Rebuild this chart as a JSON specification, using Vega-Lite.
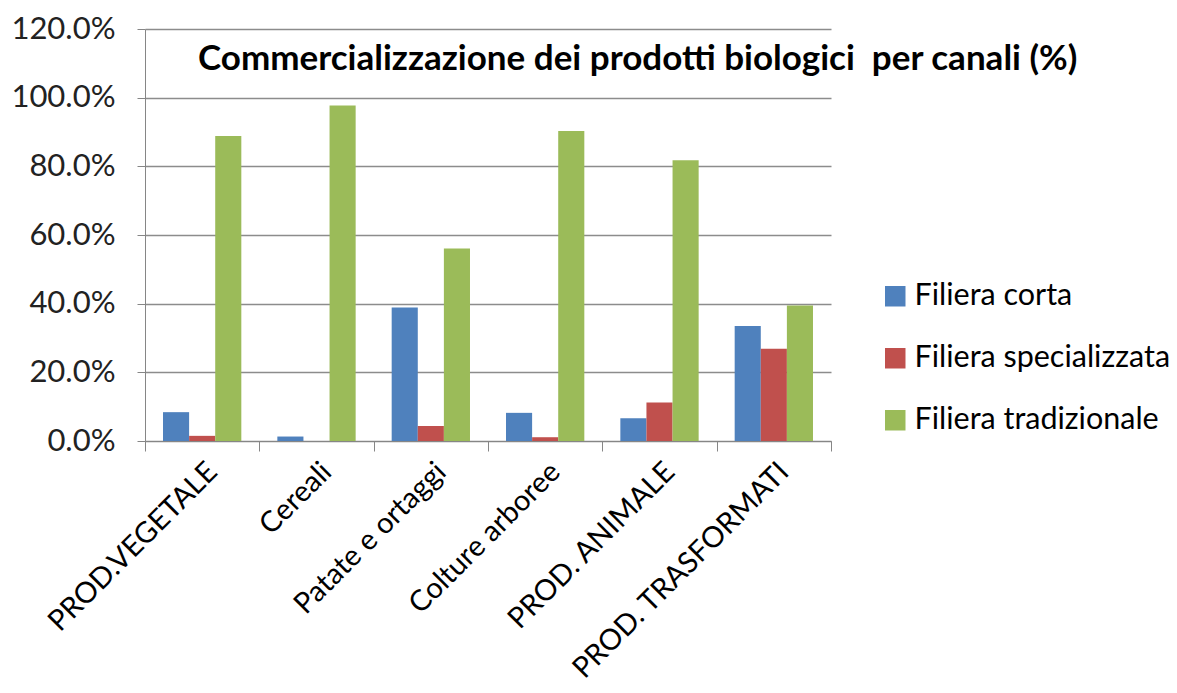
{
  "$schema": "https://vega.github.io/schema/vega-lite/v6.json",
  "width": 686,
  "height": 412,
  "autosize": {"type": "none"},
  "padding": {"left": 145, "top": 29, "right": 346, "bottom": 252},
  "background": "white",
  "title": {
    "text": "Commercializzazione dei prodotti biologici\u00a0 per canali (%)",
    "anchor": "start",
    "frame": "group",
    "dx": 53,
    "dy": 64,
    "offset": 0,
    "font": "Lato",
    "fontSize": 35,
    "fontWeight": "bold",
    "color": "#000000",
    "limit": 2000
  },
  "data": {
    "values": [
      {"categoria": "PROD.VEGETALE", "canale": "Filiera corta", "valore": 0.084},
      {"categoria": "PROD.VEGETALE", "canale": "Filiera specializzata", "valore": 0.015},
      {"categoria": "PROD.VEGETALE", "canale": "Filiera tradizionale", "valore": 0.888},
      {"categoria": "Cereali", "canale": "Filiera corta", "valore": 0.013},
      {"categoria": "Cereali", "canale": "Filiera specializzata", "valore": 0.0},
      {"categoria": "Cereali", "canale": "Filiera tradizionale", "valore": 0.977},
      {"categoria": "Patate e ortaggi", "canale": "Filiera corta", "valore": 0.389},
      {"categoria": "Patate e ortaggi", "canale": "Filiera specializzata", "valore": 0.044},
      {"categoria": "Patate e ortaggi", "canale": "Filiera tradizionale", "valore": 0.561},
      {"categoria": "Colture arboree", "canale": "Filiera corta", "valore": 0.082},
      {"categoria": "Colture arboree", "canale": "Filiera specializzata", "valore": 0.011},
      {"categoria": "Colture arboree", "canale": "Filiera tradizionale", "valore": 0.903},
      {"categoria": "PROD. ANIMALE", "canale": "Filiera corta", "valore": 0.066},
      {"categoria": "PROD. ANIMALE", "canale": "Filiera specializzata", "valore": 0.112},
      {"categoria": "PROD. ANIMALE", "canale": "Filiera tradizionale", "valore": 0.818},
      {"categoria": "PROD. TRASFORMATI", "canale": "Filiera corta", "valore": 0.335},
      {"categoria": "PROD. TRASFORMATI", "canale": "Filiera specializzata", "valore": 0.269},
      {"categoria": "PROD. TRASFORMATI", "canale": "Filiera tradizionale", "valore": 0.395}
    ]
  },
  "mark": {"type": "bar"},
  "encoding": {
    "x": {
      "field": "categoria",
      "type": "nominal",
      "sort": ["PROD.VEGETALE", "Cereali", "Patate e ortaggi", "Colture arboree", "PROD. ANIMALE", "PROD. TRASFORMATI"],
      "scale": {"paddingInner": 0, "paddingOuter": 0},
      "axis": {
        "title": null,
        "labelAngle": -45,
        "labelFont": "Lato",
        "labelFontSize": 29,
        "labelColor": "#000000",
        "labelPadding": 6,
        "labelLimit": 1000,
        "tickBand": "extent",
        "tickSize": 10,
        "tickColor": "#868686",
        "domainColor": "#868686",
        "grid": false
      }
    },
    "xOffset": {
      "field": "canale",
      "type": "nominal",
      "sort": ["Filiera corta", "Filiera specializzata", "Filiera tradizionale"],
      "scale": {"paddingInner": 0, "paddingOuter": 0.69}
    },
    "y": {
      "field": "valore",
      "type": "quantitative",
      "scale": {"domain": [0, 1.2], "nice": false},
      "axis": {
        "title": null,
        "format": ".1%",
        "values": [0, 0.2, 0.4, 0.6, 0.8, 1.0, 1.2],
        "labelFont": "Lato",
        "labelFontSize": 31,
        "labelColor": "#222222",
        "labelPadding": 22,
        "tickSize": 8,
        "tickColor": "#868686",
        "domainColor": "#868686",
        "gridColor": "#8c8c8c",
        "gridWidth": 1.5
      }
    },
    "color": {
      "field": "canale",
      "type": "nominal",
      "scale": {
        "domain": ["Filiera corta", "Filiera specializzata", "Filiera tradizionale"],
        "range": ["#4F81BD", "#C0504D", "#9BBB59"]
      },
      "legend": {
        "title": null,
        "orient": "none",
        "legendX": 735,
        "legendY": 252,
        "symbolType": "square",
        "symbolSize": 420,
        "symbolStrokeWidth": 0,
        "labelFont": "Lato",
        "labelFontSize": 30.5,
        "labelColor": "#000000",
        "labelOffset": 4,
        "rowPadding": 31,
        "labelLimit": 400
      }
    }
  },
  "config": {"view": {"stroke": null}}
}
